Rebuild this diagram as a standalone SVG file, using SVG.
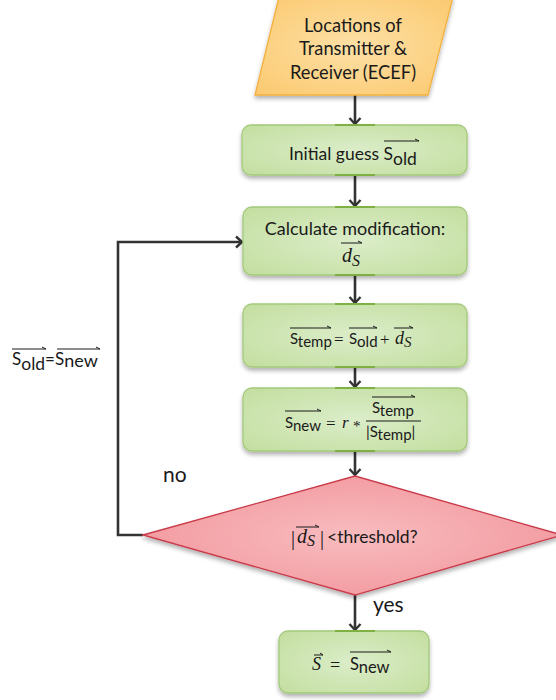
<svg xmlns="http://www.w3.org/2000/svg" width="556" height="700" viewBox="0 0 556 700">
<defs>
<radialGradient id="gGreen" cx="0.5" cy="0.5" r="0.7">
<stop offset="0" stop-color="#dbedc9"/>
<stop offset="1" stop-color="#c3de9f"/>
</radialGradient>
<radialGradient id="gOrange" cx="0.5" cy="0.5" r="0.7">
<stop offset="0" stop-color="#fde0a6"/>
<stop offset="1" stop-color="#fbc96f"/>
</radialGradient>
<radialGradient id="gRed" cx="0.5" cy="0.5" r="0.6">
<stop offset="0" stop-color="#f8bcbf"/>
<stop offset="1" stop-color="#f2979d"/>
</radialGradient>
<filter id="sh" x="-10%" y="-10%" width="120%" height="130%">
<feDropShadow dx="0" dy="3" stdDeviation="2" flood-color="#000" flood-opacity="0.3"/>
</filter>
<marker id="arr" markerUnits="userSpaceOnUse" markerWidth="14" markerHeight="14" refX="7" refY="7" orient="auto">
<path d="M1,1.5 L7,7 L1,12.5" fill="none" stroke="#333" stroke-width="2.4"/>
</marker>
<style>
.box{fill:url(#gGreen);stroke:#a3c97a;stroke-width:1.3;filter:url(#sh)}
.par{fill:url(#gOrange);stroke:#f3b13f;stroke-width:1.3;filter:url(#sh)}
.dia{fill:url(#gRed);stroke:#c93a4a;stroke-width:1.3;filter:url(#sh)}
.pin{stroke:#7fb043;stroke-width:2.2}
.conn{fill:none;stroke:#333;stroke-width:2.6}
.t{font-family:Lato,"Liberation Sans",sans-serif;fill:#1a1a1a}
.m{font-family:"Liberation Serif",serif;fill:#1a1a1a}
.mi{font-family:"Liberation Serif",serif;font-style:italic;fill:#1a1a1a}
.ov{fill:none;stroke:#1a1a1a;stroke-width:1}
</style>
</defs>

<g id="connectors">
<line class="conn" x1="355" y1="95" x2="355" y2="124" marker-end="url(#arr)"/>
<line class="conn" x1="355" y1="175" x2="355" y2="206" marker-end="url(#arr)"/>
<line class="conn" x1="355" y1="275" x2="355" y2="303" marker-end="url(#arr)"/>
<line class="conn" x1="355" y1="367" x2="355" y2="387" marker-end="url(#arr)"/>
<line class="conn" x1="355" y1="451" x2="355" y2="475" marker-end="url(#arr)"/>
<line class="conn" x1="355" y1="595" x2="355" y2="630" marker-end="url(#arr)"/>
<polyline class="conn" points="143,535 118,535 118,242 242,242" marker-end="url(#arr)"/>
</g>

<g id="input">
<polygon class="par" points="279,-3 453,-3 428,95 255,95"/>
<text class="t" font-size="18.3" text-anchor="middle" x="353" y="32">Locations of</text>
<text class="t" font-size="18.3" text-anchor="middle" x="353" y="55">Transmitter &amp;</text>
<text class="t" font-size="18.3" text-anchor="middle" x="353" y="79">Receiver (ECEF)</text>
</g>

<g id="initial">
<rect class="box" x="242" y="125" width="225" height="50" rx="9"/>
<line class="pin" x1="335" y1="125" x2="375" y2="125"/>
<line class="pin" x1="335" y1="175" x2="375" y2="175"/>
<text class="t" font-size="17.5" x="289" y="160">Initial guess S<tspan font-size="17.5" dy="5">old</tspan></text>
<path class="ov" d="M384,141 H419 M415,139 L419,141"/>
</g>

<g id="calc">
<rect class="box" x="243" y="207" width="224" height="68" rx="9"/>
<line class="pin" x1="335" y1="207" x2="375" y2="207"/>
<line class="pin" x1="335" y1="275" x2="375" y2="275"/>
<text class="t" font-size="18" text-anchor="middle" x="355" y="235">Calculate modification:</text>
<text class="mi" font-size="20" x="342" y="262">d<tspan font-size="16" dy="4">S</tspan></text>
<path class="ov" d="M341,243 H362 M358,241 L362,243"/>
</g>

<g id="temp">
<rect class="box" x="243" y="304" width="224" height="63" rx="9"/>
<line class="pin" x1="335" y1="304" x2="375" y2="304"/>
<line class="pin" x1="335" y1="367" x2="375" y2="367"/>
<text class="t" font-size="15" x="290" y="344">S<tspan font-size="15" dy="3">temp</tspan></text>
<path class="ov" d="M290,328 H331 M327,326 L331,328"/>
<text class="m" font-size="17" x="334" y="345">=</text>
<text class="t" font-size="15" x="349" y="344">S<tspan font-size="15" dy="3">old</tspan></text>
<path class="ov" d="M349,328 H377 M373,326 L377,328"/>
<text class="m" font-size="17" x="380" y="345">+</text>
<text class="mi" font-size="18" x="395" y="344">d<tspan font-size="15" dy="3">S</tspan></text>
<path class="ov" d="M394,328 H413 M409,326 L413,328"/>
</g>

<g id="new">
<rect class="box" x="243" y="388" width="224" height="63" rx="9"/>
<line class="pin" x1="335" y1="388" x2="375" y2="388"/>
<line class="pin" x1="335" y1="451" x2="375" y2="451"/>
<text class="t" font-size="15" x="285" y="428">S<tspan font-size="15" dy="3">new</tspan></text>
<path class="ov" d="M285,411 H321 M317,409 L321,411"/>
<text class="m" font-size="17" x="326" y="429">=</text>
<text class="mi" font-size="17" x="342" y="428">r</text>
<text class="m" font-size="15" x="353" y="431">*</text>
<text class="t" font-size="15" x="372" y="413">S<tspan font-size="15" dy="3">temp</tspan></text>
<path class="ov" d="M372,397 H415 M411,395 L415,397"/>
<line x1="366" y1="421" x2="421" y2="421" stroke="#1a1a1a" stroke-width="1"/>
<text class="t" font-size="15" x="366" y="437">|S<tspan font-size="15" dy="3">temp</tspan><tspan dy="-3">|</tspan></text>
</g>

<g id="decision">
<polygon class="dia" points="143,535 355,476 562,535 355,595"/>
<text class="m" font-size="20" x="291" y="545">|</text>
<text class="mi" font-size="20" x="297" y="543">d<tspan font-size="16" dy="3">S</tspan></text>
<text class="m" font-size="20" x="320" y="545">|</text>
<path class="ov" d="M296,527 H319 M315,525 L319,527"/>
<text class="t" font-size="17.5" x="327" y="543">&lt;threshold?</text>
</g>

<g id="result">
<rect class="box" x="279" y="631" width="150" height="62" rx="9"/>
<line class="pin" x1="335" y1="631" x2="375" y2="631"/>
<text class="mi" font-size="18" x="312" y="670">S</text>
<path class="ov" d="M314,655 H323 M320,653 L323,655"/>
<text class="m" font-size="18" x="330" y="671">=</text>
<text class="t" font-size="16.5" x="350" y="670">S<tspan font-size="16.5" dy="3">new</tspan></text>
<path class="ov" d="M350,652 H391 M387,650 L391,652"/>
</g>

<g id="labels">
<text class="t" font-size="17" x="12" y="365">S<tspan font-size="17.5" dy="5">old</tspan><tspan dy="-5">=S</tspan><tspan font-size="18" dy="2">new</tspan></text>
<path class="ov" d="M12,349 H46 M42,347 L46,349"/>
<path class="ov" d="M57,349 H100 M96,347 L100,349"/>
<text class="t" font-size="21" x="163" y="482">no</text>
<text class="t" font-size="21" x="373" y="612">yes</text>
</g>
</svg>
